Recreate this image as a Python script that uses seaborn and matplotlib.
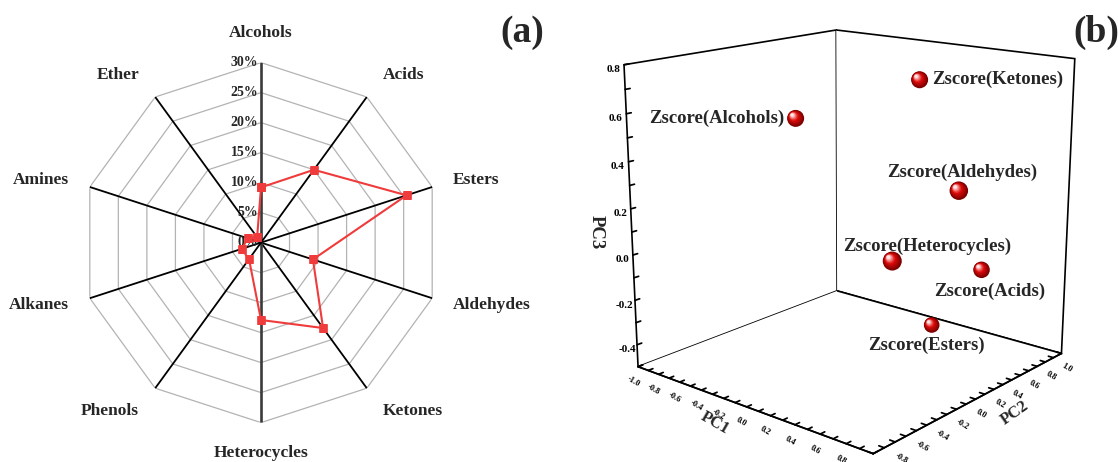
import numpy as np
import matplotlib
matplotlib.use("Agg")
import matplotlib.pyplot as plt
import matplotlib.transforms as mtransforms
from matplotlib.markers import MarkerStyle
from matplotlib.colors import to_rgb
import seaborn as sns

# ---- radar data: share of each compound class ----
categories = ["Alcohols", "Acids", "Esters", "Aldehydes", "Ketones",
              "Heterocycles", "Phenols", "Alkanes", "Amines", "Ether"]
percent = [9.2, 15.0, 25.5, 9.1, 17.6, 12.9, 3.4, 3.4, 2.3, 1.1]
radial_ticks = [0, 5, 10, 15, 20, 25, 30]
radial_labels = ["0%", "5%", "10%", "15%", "20%", "25%", "30%"]

# ---- PCA loadings of the standardised groups ----
groups = ["Zscore(Ketones)", "Zscore(Alcohols)", "Zscore(Aldehydes)",
          "Zscore(Heterocycles)", "Zscore(Acids)", "Zscore(Esters)"]
pc1 = [0.24, -0.35, 0.53, 0.26, 0.75, 0.57]
pc2 = [0.38, -0.15, 0.43, 0.09, 0.39, 0.11]
pc3 = [0.71, 0.55, 0.26, -0.03, -0.05, -0.27]

sns.set_theme(style="white")
plt.rcParams["font.family"] = ["Liberation Serif", "DejaVu Serif"]
plt.rcParams["font.weight"] = "bold"

FW, FH = 1118, 462
fig = plt.figure(figsize=(FW / 100, FH / 100), dpi=100)

# ================= (a) radar =================
axr = fig.add_axes([81 / FW, 39.4 / FH, 360 / FW, 360 / FH], projection="polar")
axr.set_theta_zero_location("N")
axr.set_theta_direction(-1)
axr.set_ylim(0, 30)
axr.grid(False)
axr.spines["polar"].set_visible(False)
axr.set_xticks([])
axr.set_yticks([])
axr.set_facecolor("none")

n = len(categories)
theta = np.arange(n) * 2 * np.pi / n
ring_theta = np.append(theta, theta[0])

# decagonal grid rings and spokes
for r in radial_ticks[1:]:
    axr.plot(ring_theta, [r] * (n + 1), color="#b3b3b3", lw=0.9, zorder=1)
for i, t in enumerate(theta):
    main = i in (0, n // 2)
    axr.plot([t, t], [0, radial_ticks[-1]], color="#3a3a3a" if main else "black",
             lw=1.9 if main else 1.3, zorder=2)

# radial scale along the vertical spoke
lab_tr = mtransforms.offset_copy(axr.transData, fig=fig, x=-3, y=0, units="dots")
for r, s in zip(radial_ticks, radial_labels):
    axr.text(0, r, s, transform=lab_tr, ha="right", va="center", fontsize=10, zorder=3)

# category names around the outside
for t, name in zip(theta, categories):
    sn, cs = np.sin(t), np.cos(t)
    ha = "center" if abs(sn) < 0.1 else ("left" if sn > 0 else "right")
    axr.text(t, 33 + 2 * abs(cs), name, ha=ha, va="center", fontsize=12.5)

red = "#ef3b3b"
sns.lineplot(x=ring_theta, y=percent + percent[:1], ax=axr, sort=False, estimator=None,
             color=red, lw=1.5, marker="s", markersize=5.5, markeredgecolor=red,
             markeredgewidth=0.5, zorder=4)
axr.set_xlabel("")
axr.set_ylabel("")
fig.text(522 / FW, 1 - 32 / FH, "(a)", fontsize=27, ha="center", va="center")

# ================= (b) 3D PCA loadings =================
ax3 = fig.add_axes([0.5232, -0.0454, 0.4659, 1.1275], projection="3d")
ax3.view_init(elev=15.83, azim=-49.76)
ax3.set_proj_type("persp", focal_length=0.479)
ax3.set_box_aspect((1.0, 1.0, 1.0))
ax3.computed_zorder = False
ax3.set_facecolor("none")
ax3.grid(False)
for axis in (ax3.xaxis, ax3.yaxis, ax3.zaxis):
    axis.set_pane_color("white")
    axis.pane.set_edgecolor("black")
    axis.pane.set_linewidth(1.2)
    axis.line.set_color("black")
    axis.line.set_linewidth(1.2)
    axis._axinfo["tick"]["inward_factor"] = 0.0
    axis._axinfo["tick"]["outward_factor"] = 0.25
ax3.zaxis.set_ticks_position("lower")
ax3.tick_params(colors="black", pad=-3.5)

xy_ticks = np.round(np.arange(-1.0, 1.01, 0.1), 1)
xy_labels = [(f"{v:.1f}" if i % 2 == 0 else "").replace("-0.0", "0.0")
             for i, v in enumerate(xy_ticks)]
ax3.set_xticks(xy_ticks)
ax3.set_xticklabels(xy_labels, fontsize=6, rotation=-30)
ax3.set_yticks(xy_ticks)
ax3.set_yticklabels(xy_labels, fontsize=6, rotation=-30)
z_ticks = np.round(np.arange(-0.5, 0.81, 0.1), 1)
z_labels = [(f"{v:.1f}" if int(round(v * 10)) % 2 == 0 else "").replace("-0.0", "0.0")
            for v in z_ticks]
ax3.set_zticks(z_ticks)
ax3.set_zticklabels(z_labels, fontsize=8)
ax3.set_xlim(-1, 1)
ax3.set_ylim(-1, 1)
ax3.set_zlim(-0.5, 0.8)

# shaded spheres: stacked discs shifting toward an upper-left highlight
diam_px = [17, 17, 18.5, 19, 16.5, 15.6]
dark, mid, light = np.array(to_rgb("#7a0000")), np.array(to_rgb("#e10a0a")), np.array(to_rgb("#ffe6e6"))
n_layers = 9
for k in range(n_layers):
    tt = k / (n_layers - 1)
    f = 1 - 0.8 * tt
    if tt <= 0.55:
        col = dark + (mid - dark) * (tt / 0.55)
    else:
        col = mid + (light - mid) * ((tt - 0.55) / 0.45)
    off = np.array([-0.2, 0.2]) * tt / f
    m = MarkerStyle("o", transform=mtransforms.Affine2D().translate(*off))
    sizes = (np.array(diam_px) * 0.72 * f) ** 2
    ax3.scatter(pc1, pc2, pc3, s=sizes, c=[col], marker=m, depthshade=False,
                linewidths=0, zorder=10 + k)

label_off = [(13, 0, "left"), (-11, 0, "right"), (3, 18, "center"),
             (35, 15, "center"), (8, -22, "center"), (-5, -20, "center")]
for name, x, y, z, (dx, dy, ha) in zip(groups, pc1, pc2, pc3, label_off):
    tr = mtransforms.offset_copy(ax3.transData, fig=fig, x=dx, y=dy, units="dots")
    ax3.text(x, y, z, name, transform=tr, ha=ha, va="center", fontsize=13.5, zorder=50)

fig.text(596 / FW, 1 - 232 / FH, "PC3", rotation=270, fontsize=13.5, ha="center", va="center")
fig.text(715 / FW, 1 - 423 / FH, "PC1", rotation=-30, fontsize=12, ha="center", va="center")
fig.text(1015 / FW, 1 - 413 / FH, "PC2", rotation=35, fontsize=12, ha="center", va="center")
fig.text(1096 / FW, 1 - 32 / FH, "(b)", fontsize=27, ha="center", va="center")

fig.savefig("out.png", dpi=100)
